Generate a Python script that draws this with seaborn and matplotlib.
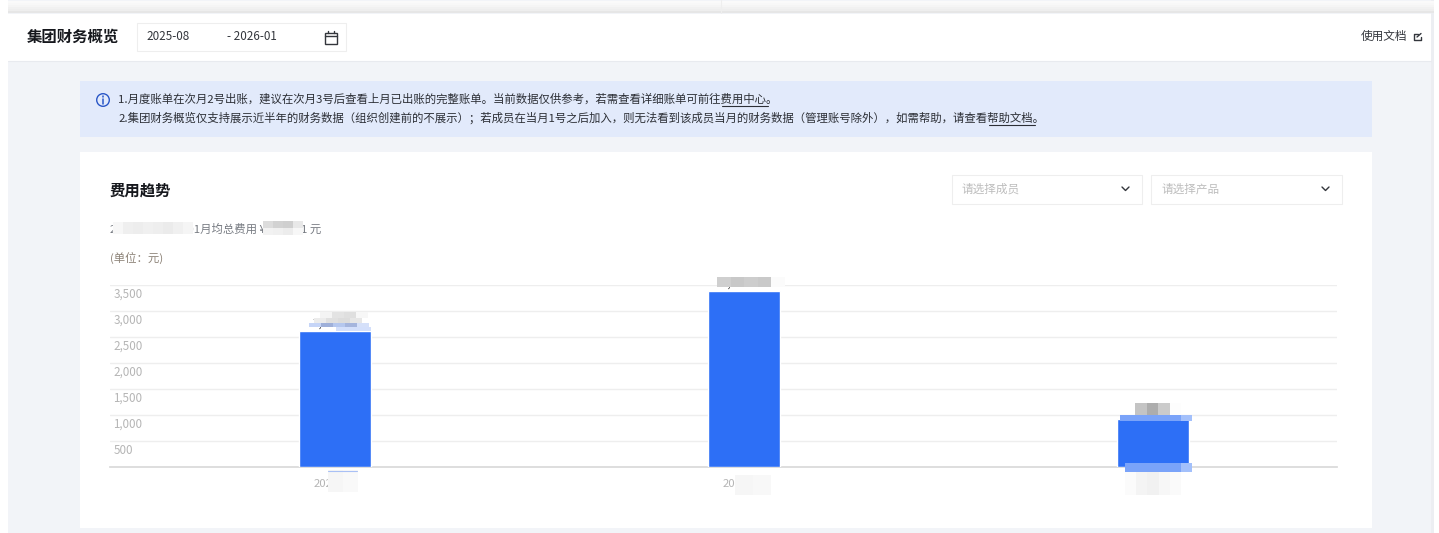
import matplotlib
matplotlib.use("Agg")
import matplotlib.pyplot as plt
from matplotlib.patches import Rectangle, Circle
from matplotlib.transforms import ScaledTranslation
import seaborn as sns

# Datos del grafico
meses = ["2025-11", "2025-12", "2026-01"]
costes = [2606.12, 3390.21, 930.55]
y_ticks = [500, 1000, 1500, 2000, 2500, 3000, 3500]
y_labels = ["500", "1,000", "1,500", "2,000", "2,500", "3,000", "3,500"]
etiquetas = ["2,606.12", "3,390.21", "930.55"]

# Textos de la pagina
titulo = "集团财务概览"
fecha_ini = "2025-08"
fecha_fin = "- 2026-01"
doc = "使用文档"
aviso1 = "1.月度账单在次月2号出账，建议在次月3号后查看上月已出账的完整账单。当前数据仅供参考，若需查看详细账单可前往费用中心。"
aviso2 = "2.集团财务概览仅支持展示近半年的财务数据（组织创建前的不展示）；若成员在当月1号之后加入，则无法看到该成员当月的财务数据（管理账号除外），如需帮助，请查看帮助文档。"
seccion = "费用趋势"
resumen = "2025-08~2026-01月均总费用 ¥3010.11 元"
unidad = "(单位：元)"
filtro1 = "请选择成员"
filtro2 = "请选择产品"

sns.set_theme(style="white")
plt.rcParams["font.family"] = ["Noto Sans CJK SC", "DejaVu Sans"]

W, H = 1439, 533
fig = plt.figure(figsize=(W / 100, H / 100), dpi=100, facecolor="white")


def capa(zorder):
    a = fig.add_axes([0, 0, 1, 1], zorder=zorder)
    a.set_xlim(0, W)
    a.set_ylim(H, 0)
    a.axis("off")
    a.patch.set_alpha(0)
    return a


def caja(a, x0, y0, x1, y1, color, borde="none", lw=0.8):
    a.add_patch(Rectangle((x0, y0), x1 - x0, y1 - y0, facecolor=color, edgecolor=borde, linewidth=lw))


def mosaico(a, x0, y0, ancho, alto, colores):
    # bloques del pixelado, una fila por lista
    for j, fila in enumerate(colores):
        for i, c in enumerate(fila):
            caja(a, x0 + i * ancho, y0 + j * alto, x0 + (i + 1) * ancho, y0 + (j + 1) * alto, c)


# Fondo y marco de la pagina
ui = capa(0)
caja(ui, 8, 0, 1431, 533, "#f2f4f8")
caja(ui, 1431, 0, 1434, 533, "#eceef2")
for k, c in enumerate(["#fafafa", "#f8f8f8", "#f5f5f5", "#f1f1f1", "#eeeeee", "#e6e6e6"]):
    caja(ui, 0, 1 + k * 2, 1434, 3 + k * 2, c)
caja(ui, 0, 0, 8, 533, "white")
caja(ui, 1434, 0, W, 533, "white")
ui.plot([721, 721], [0, 13], color="#eeeeee", lw=0.8)
caja(ui, 8, 14, 1431, 61, "white")
ui.plot([8, 1431], [60.5, 60.5], color="#e8eaef", lw=0.8)

ui.text(27, 37, titulo, fontsize=11.1, fontweight="bold", color="#16181d", va="center")
caja(ui, 137, 23, 346, 50.5, "white", "#eeeeee")
ui.text(146.5, 36.5, fecha_ini, fontsize=8.4, color="#33363c", va="center")
ui.text(227, 36.5, fecha_fin, fontsize=8.4, color="#33363c", va="center")
# icono calendario
caja(ui, 325, 32.5, 336.5, 44, "none", "#33363c", 1.0)
ui.plot([325, 336.5], [36, 36], color="#33363c", lw=1.0)
ui.plot([328, 328], [30.5, 32.5], color="#33363c", lw=1.0)
ui.plot([334, 334], [30.5, 32.5], color="#33363c", lw=1.0)

ui.text(1361, 36.5, doc, fontsize=8.4, color="#33363c", va="center")
# icono enlace externo
ui.plot([1418, 1414, 1414, 1421, 1421], [34, 34, 40, 40, 37], color="#33363c", lw=1.0)
ui.plot([1417, 1421], [37, 33.5], color="#33363c", lw=1.0)

# Aviso azul
caja(ui, 80, 81, 1372, 137, "#e2eafb")
ui.add_patch(Circle((103, 100), 6.3, facecolor="none", edgecolor="#2a57c7", linewidth=1.0))
ui.plot([103, 103], [99, 104], color="#2a57c7", lw=1.1)
ui.plot([103, 103], [96, 97.3], color="#2a57c7", lw=1.1)
ui.text(118, 99.5, aviso1, fontsize=8.23, color="#2c2f36", va="center")
ui.text(118, 118, aviso2, fontsize=8.23, color="#2c2f36", va="center")
ui.plot([722, 768], [106, 106], color="#2c2f36", lw=0.8)
ui.plot([989, 1035], [124.5, 124.5], color="#2c2f36", lw=0.8)

# Tarjeta del grafico
caja(ui, 80, 152, 1372, 528, "white")
ui.text(110, 190.5, seccion, fontsize=11.1, fontweight="bold", color="#16181d", va="center")
ui.text(110, 229.5, resumen, fontsize=8.2, color="#777b82", va="center")
ui.text(110, 258.5, unidad, fontsize=8.2, color="#8d8378", va="center")

for x0, x1, txt in [(951.5, 1141.5, filtro1), (1151, 1341.5, filtro2)]:
    caja(ui, x0, 175, x1, 203.5, "white", "#eeeeee")
    ui.text(x0 + 10, 189, txt, fontsize=8.4, color="#bdbdbd", va="center")
    ui.plot([x1 - 19.5, x1 - 16, x1 - 12.5], [187, 190.5, 187], color="#33363c", lw=1.0)

# Grafico de barras
y_base, y_top = 467, 285
x_izq, x_der = 110, 1337
ax = fig.add_axes([x_izq / W, 1 - y_base / H, (x_der - x_izq) / W, (y_base - y_top) / H], zorder=1)
ax.patch.set_alpha(0)
sns.barplot(x=meses, y=costes, color="#2d6ff6", saturation=1, width=0.175, ax=ax, zorder=3)
ax.set_xlim(-0.55, 2.45)
ax.set_ylim(0, 3500)
ax.set_yticks(y_ticks)
ax.set_yticklabels(y_labels, fontsize=8.4, color="#b5b5b5", ha="left")
ax.tick_params(axis="y", length=0, pad=-2.5)
ax.tick_params(axis="x", length=4, width=0.8, color="#d0d0d0", labelsize=8.2, labelcolor="#b5b5b5", pad=4.5)
baja = ScaledTranslation(0, -8 / 100, fig.dpi_scale_trans)
for lab in ax.get_yticklabels():
    lab.set_transform(lab.get_transform() + baja)
ax.grid(axis="y", color="#eeeeee", lw=1.0)
ax.set_axisbelow(True)
sns.despine(ax=ax, left=True, top=True, right=True)
ax.spines["bottom"].set_color("#d9d9d9")
ax.set_xlabel("")
ax.set_ylabel("")
ax.bar_label(ax.containers[0], labels=etiquetas, fontsize=8.4, color="#222222", padding=1)

# Zonas pixeladas encima de los textos
top = capa(2)
mosaico(top, 113, 222, 10, 12, [["#f7f7f7", "#efefef", "#ededed", "#f0f0f0", "#eeeeee", "#ebebeb", "#f0f0f0", "#f5f5f5"]])
mosaico(top, 263, 221, 10, 7, [["#dcdcdc", "#d2d2d2", "#cfcfcf", "#e8e8e8"], ["#f2f2f2", "#f0f0f0", "#ececec", "#f7f7f7"]])
# barra 1
mosaico(top, 320, 312, 12, 6, [["#f4f4f4", "#e3e3e3", "#dfdfdf", "#f7f7f7"]])
mosaico(top, 314, 318, 12, 5, [["#ececec", "#e0e0e0", "#dcdcdc", "#e6e6e6"]])
mosaico(top, 309, 323, 12, 4, [["#c6d5f7", "#9fb0d9", "#b5c7ee", "#a5b5dd", "#d5e0f9"]])
caja(top, 336, 327, 371, 330.5, "#d3dffb")
mosaico(top, 328, 470, 15, 22, [["#f6f6f6", "#f9f9f9"]])
top.plot([328, 357], [471, 471], color="#a9c0f5", lw=0.8)
# barra 2
mosaico(top, 717, 277, 13.5, 10, [["#cfcfcf", "#c8c8c8", "#cdcdcd", "#c9c9c9"]])
caja(top, 771, 277, 785, 287, "#fbfbfb")
mosaico(top, 735, 475, 18, 20, [["#f6f6f6", "#f8f8f8"]])
# barra 3
mosaico(top, 1135, 403, 11.5, 12, [["#c4c4c4", "#adadad", "#cbcbcb", "#fdfdfd"]])
caja(top, 1120, 415, 1181, 421, "#7aa3f9")
caja(top, 1181, 415, 1192, 421, "#a3c0fb")
caja(top, 1125, 463, 1181, 472, "#7aa3f9")
caja(top, 1181, 463, 1192, 472, "#a3c0fb")
mosaico(top, 1125, 472, 11.2, 23, [["#fbfbfb", "#f4f4f4", "#f1f1f1", "#f7f7f7", "#fafafa"]])

fig.savefig("out.png", dpi=100)
